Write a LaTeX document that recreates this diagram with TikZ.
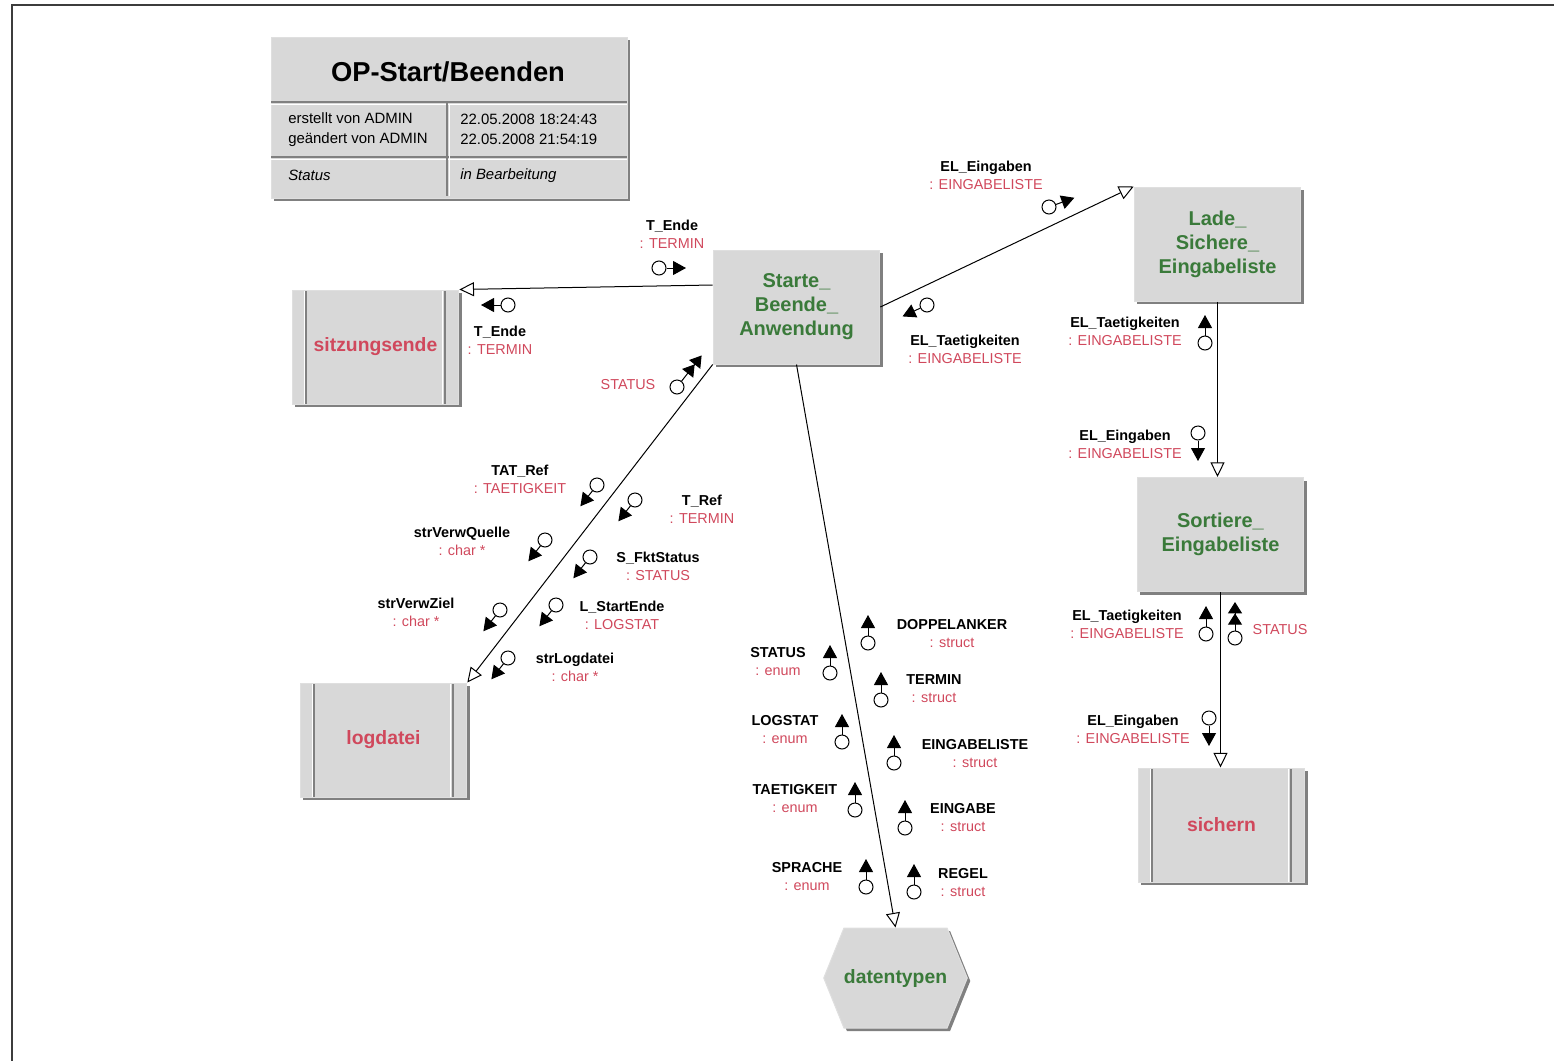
\documentclass[tikz,border=0pt]{standalone}
\usepackage{fontspec}
\setmainfont{Liberation Sans}
\usetikzlibrary{arrows.meta,shapes.symbols,shadows}
\definecolor{boxgray}{RGB}{216,216,216}
\definecolor{shadegray}{RGB}{128,128,128}
\definecolor{procgreen}{RGB}{58,122,58}
\definecolor{storered}{RGB}{208,72,92}
\definecolor{framegray}{RGB}{60,60,60}
\newcommand{\flab}[2]{\textbf{#1}\\\textcolor{storered}{: #2}}

\begin{document}
\begin{tikzpicture}[x=0.75pt, y=-0.75pt,
    box/.style={rectangle, fill=boxgray, draw=gray!25, line width=0.75pt, align=center,
        drop shadow={shadow xshift=2.25pt, shadow yshift=-2.25pt, fill=shadegray, opacity=1}},
    proc/.style={box, minimum width=125pt, minimum height=85.5pt, text=procgreen,
        font=\fontsize{15}{18}\selectfont\bfseries},
    store/.style={box, minimum width=125pt, minimum height=85.5pt, text=storered,
        font=\fontsize{14.5}{18}\selectfont\bfseries,
        path picture={
            \draw[white, line width=0.75pt] ([xshift=9pt]path picture bounding box.north west) -- ([xshift=9pt]path picture bounding box.south west);
            \draw[shadegray, line width=1.5pt] ([xshift=10.5pt]path picture bounding box.north west) -- ([xshift=10.5pt]path picture bounding box.south west);
            \draw[white, line width=0.75pt] ([xshift=-12pt]path picture bounding box.north east) -- ([xshift=-12pt]path picture bounding box.south east);
            \draw[shadegray, line width=1.5pt] ([xshift=-10.5pt]path picture bounding box.north east) -- ([xshift=-10.5pt]path picture bounding box.south east);}},
    hexa/.style={signal, signal to=west and east, signal pointer angle=136, fill=boxgray,
        draw=gray!25, line width=0.75pt, inner xsep=0pt, minimum height=75pt,
        text=procgreen, font=\fontsize{14.5}{18}\selectfont\bfseries,
        drop shadow={shadow xshift=2.25pt, shadow yshift=-2.25pt, fill=shadegray, opacity=1}},
    cell/.style={anchor=west, align=left, inner sep=0pt, font=\fontsize{11.2}{15}\selectfont},
    flow/.style={line width=0.75pt, -{Triangle[open, length=11pt, width=10.5pt, fill=white]}},
    tok/.style={circle, draw, fill=white, inner sep=0pt, minimum size=10.5pt, line width=0.75pt},
    tip/.style={line width=0.75pt, -{Triangle[length=9.75pt, width=10.5pt]}},
    tiptwo/.style={line width=0.75pt, -{Triangle[length=8.5pt, width=10.5pt] Triangle[length=8.5pt, width=10.5pt]}},
    lbl/.style={align=center, inner sep=0pt, font=\fontsize{10.8}{13.5}\selectfont},
    redlbl/.style={lbl, text=storered}
]
    \useasboundingbox (0,0) rectangle (1554,1061);
    \draw[framegray, line width=1.2pt] (12,1061) -- (12,5) -- (1554,5);

    % title block
    \node[box, minimum width=267pt, minimum height=120.75pt] (info) at (449,117.5) {};
    \draw[shadegray, line width=1pt] (271,102) -- (627,102);
    \draw[white, line width=0.75pt] (271,104) -- (627,104);
    \draw[shadegray, line width=1pt] (271,157) -- (627,157);
    \draw[white, line width=0.75pt] (271,159) -- (627,159);
    \draw[shadegray, line width=1pt] (447,102) -- (447,196);
    \draw[white, line width=0.75pt] (449,104) -- (449,196);
    \node[font=\fontsize{20.5}{24}\selectfont\bfseries] (ttl) at (448,72) {OP-Start/Beenden};
    \node[cell] (who) at (288,129.5) {erstellt von ADMIN\\geändert von ADMIN};
    \node[cell] (when) at (460,129.5) {22.05.2008 18:24:43\\22.05.2008 21:54:19};
    \node[cell, font=\fontsize{11.2}{15}\selectfont\itshape] (stat) at (288,175.5) {Status};
    \node[cell, font=\fontsize{11.2}{15}\selectfont\itshape] (statval) at (460,175.5) {in Bearbeitung};

    % processes and stores
    \node[proc] (start) at (796.5,307) {Starte\_\\Beende\_\\Anwendung};
    \node[proc] (lade) at (1217.5,244) {Lade\_\\Sichere\_\\Eingabeliste};
    \node[proc] (sort) at (1220.5,534.5) {Sortiere\_\\Eingabeliste};
    \node[store] (sitz) at (375.5,347) {sitzungsende};
    \node[store] (logd) at (383.5,740) {logdatei};
    \node[store] (sich) at (1221.5,825) {sichern};
    \node[hexa] (dat) at (895.5,978) {datentypen};

    % connections
    \draw[flow] ([yshift=16.5pt]start.west) -- (sitz.north east);
    \draw[flow] (start.east) -- (lade.north west);
    \draw[flow] (start.south west) -- (logd.north east);
    \draw[flow] (start.south) -- (dat.north);
    \draw[flow] (lade.south) -- (lade.south |- sort.north);
    \draw[flow] (sort.south) -- (sort.south |- sich.north);

    % data flows start - sitzungsende
    \node[tok] (kEndeA) at (659,268) {};
    \draw[tip] (kEndeA) -- ++(0:27);
    \node[lbl] (lEndeA) at (672,234) {\flab{T\_Ende}{TERMIN}};
    \node[tok] (kEndeB) at (508,305) {};
    \draw[tip] (kEndeB) -- ++(180:27);
    \node[lbl] (lEndeB) at (500,340) {\flab{T\_Ende}{TERMIN}};

    % data flows start - lade
    \node[tok] (kEinA) at (1049,207) {};
    \draw[tip] (kEinA) -- ++(-20:27);
    \node[lbl] (lEinA) at (986,175) {\flab{EL\_Eingaben}{EINGABELISTE}};
    \node[tok] (kTaetA) at (927,305) {};
    \draw[tip] (kTaetA) -- ++(155:27);
    \node[lbl] (lTaetA) at (965,349) {\flab{EL\_Taetigkeiten}{EINGABELISTE}};

    % data flows lade - sort - sichern
    \node[tok] (kTaetB) at (1205,343) {};
    \draw[tip] (kTaetB) -- ++(-90:28);
    \node[lbl] (lTaetB) at (1125,331) {\flab{EL\_Taetigkeiten}{EINGABELISTE}};
    \node[tok] (kEinB) at (1198,433) {};
    \draw[tip] (kEinB) -- ++(90:28);
    \node[lbl] (lEinB) at (1125,444) {\flab{EL\_Eingaben}{EINGABELISTE}};
    \node[tok] (kTaetC) at (1206,634) {};
    \draw[tip] (kTaetC) -- ++(-90:28);
    \node[lbl] (lTaetC) at (1127,624) {\flab{EL\_Taetigkeiten}{EINGABELISTE}};
    \node[tok] (kStatB) at (1235,638) {};
    \draw[tiptwo] (kStatB) -- ++(-90:36);
    \node[redlbl] (lStatB) at (1280,630) {STATUS};
    \node[tok] (kEinC) at (1209,718) {};
    \draw[tip] (kEinC) -- ++(90:28);
    \node[lbl] (lEinC) at (1133,729) {\flab{EL\_Eingaben}{EINGABELISTE}};

    % data flows start - logdatei
    \node[tok] (kStatA) at (677,387) {};
    \draw[tiptwo] (kStatA) -- ++(-52:40);
    \node[redlbl] (lStatA) at (628,385) {STATUS};
    \node[tok] (kTat) at (597,485) {};
    \draw[tip] (kTat) -- ++(128:27);
    \node[lbl] (lTat) at (520,479) {\flab{TAT\_Ref}{TAETIGKEIT}};
    \node[tok] (kTRef) at (635,500) {};
    \draw[tip] (kTRef) -- ++(128:27);
    \node[lbl] (lTRef) at (702,509) {\flab{T\_Ref}{TERMIN}};
    \node[tok] (kQuelle) at (545,540) {};
    \draw[tip] (kQuelle) -- ++(128:27);
    \node[lbl] (lQuelle) at (462,541) {\flab{strVerwQuelle}{char *}};
    \node[tok] (kFkt) at (590,557) {};
    \draw[tip] (kFkt) -- ++(128:27);
    \node[lbl] (lFkt) at (658,566) {\flab{S\_FktStatus}{STATUS}};
    \node[tok] (kZiel) at (500,610) {};
    \draw[tip] (kZiel) -- ++(128:27);
    \node[lbl] (lZiel) at (416,612) {\flab{strVerwZiel}{char *}};
    \node[tok] (kLStart) at (556,605) {};
    \draw[tip] (kLStart) -- ++(128:27);
    \node[lbl] (lLStart) at (622,615) {\flab{L\_StartEnde}{LOGSTAT}};
    \node[tok] (kLog) at (508,658) {};
    \draw[tip] (kLog) -- ++(128:27);
    \node[lbl] (lLog) at (575,667) {\flab{strLogdatei}{char *}};

    % data flows start - datentypen
    \node[tok] (kDop) at (868,643) {};
    \draw[tip] (kDop) -- ++(-90:28);
    \node[lbl] (lDop) at (952,634) {\flab{DOPPELANKER}{struct}};
    \node[tok] (kStatE) at (830,673) {};
    \draw[tip] (kStatE) -- ++(-90:28);
    \node[lbl] (lStatE) at (778,662) {\flab{STATUS}{enum}};
    \node[tok] (kTerm) at (881,700) {};
    \draw[tip] (kTerm) -- ++(-90:28);
    \node[lbl] (lTerm) at (934,689) {\flab{TERMIN}{struct}};
    \node[tok] (kLogS) at (842,742) {};
    \draw[tip] (kLogS) -- ++(-90:28);
    \node[lbl] (lLogS) at (785,730) {\flab{LOGSTAT}{enum}};
    \node[tok] (kEList) at (894,763) {};
    \draw[tip] (kEList) -- ++(-90:28);
    \node[lbl] (lEList) at (975,754) {\flab{EINGABELISTE}{struct}};
    \node[tok] (kTaetE) at (855,810) {};
    \draw[tip] (kTaetE) -- ++(-90:28);
    \node[lbl] (lTaetE) at (795,799) {\flab{TAETIGKEIT}{enum}};
    \node[tok] (kEing) at (905,828) {};
    \draw[tip] (kEing) -- ++(-90:28);
    \node[lbl] (lEing) at (963,818) {\flab{EINGABE}{struct}};
    \node[tok] (kSpr) at (866,887) {};
    \draw[tip] (kSpr) -- ++(-90:28);
    \node[lbl] (lSpr) at (807,877) {\flab{SPRACHE}{enum}};
    \node[tok] (kReg) at (914,892) {};
    \draw[tip] (kReg) -- ++(-90:28);
    \node[lbl] (lReg) at (963,883) {\flab{REGEL}{struct}};
\end{tikzpicture}
\end{document}
